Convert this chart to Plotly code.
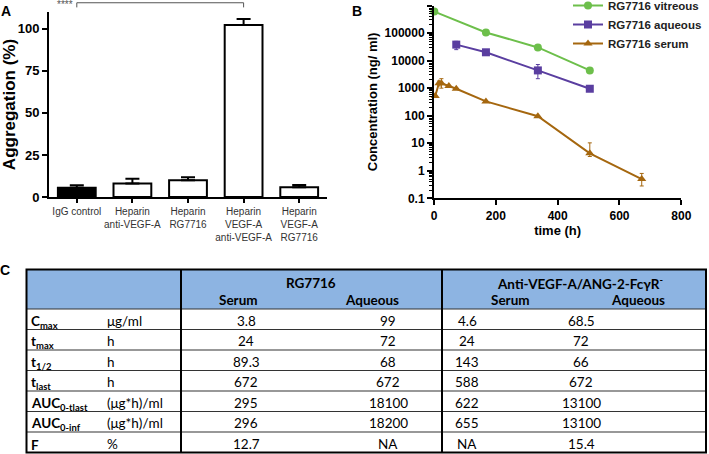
import plotly.graph_objects as go

W, H = 709, 454

# ---------------- Panel A data ----------------
agg_categories = ["IgG control", "Heparin<br>anti-VEGF-A", "Heparin<br>RG7716",
                  "Heparin<br>VEGF-A<br>anti-VEGF-A", "Heparin<br>VEGF-A<br>RG7716"]
agg_values = [5.5, 8.1, 9.9, 102.3, 5.8]
agg_errors = [1.5, 2.7, 1.8, 3.5, 1.3]
agg_ticks = [0, 25, 50, 75, 100]

# ---------------- Panel B data ----------------
vit_t = [1, 168, 336, 504]
vit_c = [600000, 105000, 30000, 4400]
aq_t = [72, 168, 336, 504]
aq_c = [38000, 20000, 4400, 950]
aq_err_plus = [12000, 0, 2800, 0]
aq_err_minus = [13000, 0, 2200, 0]
ser_t = [4, 16, 24, 48, 72, 168, 336, 504, 672]
ser_c = [520, 1500, 1500, 1200, 950, 330, 95, 4.3, 0.5]
ser_err_plus = [0, 300, 700, 0, 0, 0, 0, 6, 0.3]
ser_err_minus = [0, 300, 500, 0, 0, 0, 0, 1, 0.22]
conc_ticks = [0.1, 1, 10, 100, 1000, 10000, 100000, 1000000]
conc_labels = ["0.1", "1", "10", "100", "1000", "10000", "100000", "1000000"]
time_ticks = [0, 200, 400, 600, 800]

# ---------------- Panel C data ----------------
pk_params = ["C<sub>max</sub>", "t<sub>max</sub>", "t<sub>1/2</sub>", "t<sub>last</sub>",
             "AUC<sub>0-tlast</sub>", "AUC<sub>0-inf</sub>", "F"]
pk_units = ["μg/ml", "h", "h", "h", "(μg*h)/ml", "(μg*h)/ml", "%"]
rg_serum = ["3.8", "24", "89.3", "672", "295", "296", "12.7"]
rg_aqueous = ["99", "72", "68", "672", "18100", "18200", "NA"]
anti_serum = ["4.6", "24", "143", "588", "622", "655", "NA"]
anti_aqueous = ["68.5", "72", "66", "672", "13100", "13100", "15.4"]
group_names = ["RG7716", "Anti-VEGF-A/ANG-2-FcγR<sup>-</sup>"]
sub_names = ["Serum", "Aqueous", "Serum", "Aqueous"]

# ---------------- styles ----------------
AXF = "Liberation Sans, Arial, sans-serif"
TBF = "Lato, Calibri, sans-serif"
GREEN = "#6dbf4b"
PURPLE = "#5a3ea0"
BROWN = "#a5670f"
BAR_FILL = ["black", "white", "white", "white", "white"]


def px(x):
    return x / W


def py(y):
    return 1 - y / H


fig = go.Figure()

# Panel A bars
fig.add_trace(go.Bar(
    x=agg_categories, y=agg_values,
    marker=dict(color=BAR_FILL, line=dict(color="black", width=2)),
    error_y=dict(type="data", symmetric=False, array=agg_errors,
                 arrayminus=[0] * len(agg_errors), color="black", thickness=2, width=7),
    xaxis="x", yaxis="y", showlegend=False, hoverinfo="skip"))

# Panel B lines
fig.add_trace(go.Scatter(
    x=vit_t, y=vit_c, mode="lines+markers", name="RG7716 vitreous",
    line=dict(color=GREEN, width=2), marker=dict(symbol="circle", size=8, color=GREEN),
    xaxis="x2", yaxis="y2", cliponaxis=False))
fig.add_trace(go.Scatter(
    x=aq_t, y=aq_c, mode="lines+markers", name="RG7716 aqueous",
    line=dict(color=PURPLE, width=2), marker=dict(symbol="square", size=8, color=PURPLE),
    error_y=dict(type="data", symmetric=False, array=aq_err_plus, arrayminus=aq_err_minus,
                 color=PURPLE, thickness=1, width=2),
    xaxis="x2", yaxis="y2", cliponaxis=False))
fig.add_trace(go.Scatter(
    x=ser_t, y=ser_c, mode="lines+markers", name="RG7716 serum",
    line=dict(color=BROWN, width=2), marker=dict(symbol="triangle-up", size=8, color=BROWN),
    error_y=dict(type="data", symmetric=False, array=ser_err_plus, arrayminus=ser_err_minus,
                 color=BROWN, thickness=1, width=2),
    xaxis="x2", yaxis="y2", cliponaxis=False))

axis_common = dict(showline=True, linecolor="black", ticks="outside", tickcolor="black",
                   showgrid=False, zeroline=False, mirror=False, automargin=False)

fig.update_layout(
    width=W, height=H, margin=dict(l=0, r=0, t=0, b=0, autoexpand=False),
    paper_bgcolor="white", plot_bgcolor="white",
    bargap=0.32, hovermode=False,
    xaxis=dict(domain=[px(49), px(327)], anchor="y", type="category", range=[-0.5, 4.5],
               linewidth=2, ticklen=4, tickwidth=1.5, tickangle=0,
               tickfont=dict(family=AXF, size=10, color="#333"), **axis_common),
    yaxis=dict(domain=[py(197), py(12)], anchor="x", range=[0, 110], tickvals=agg_ticks,
               linewidth=2, ticklen=5, tickwidth=2,
               tickfont=dict(family=AXF, size=13, color="black", weight="bold"),
               title=dict(text="<b>Aggregation (%)</b>", font=dict(family=AXF, size=17, color="black"),
                          standoff=5),
               **axis_common),
    xaxis2=dict(domain=[px(434), px(681.3)], anchor="y2", range=[0, 800], tickvals=time_ticks,
                linewidth=2, ticklen=5, tickwidth=2,
                tickfont=dict(family=AXF, size=12, color="black", weight="bold"),
                title=dict(text="<b>time (h)</b>", font=dict(family=AXF, size=13, color="black"),
                           standoff=4),
                **axis_common),
    yaxis2=dict(domain=[py(198.3), py(5.5)], anchor="x2", type="log", range=[-1, 6],
                tickvals=conc_ticks, ticktext=conc_labels,
                linewidth=2, ticklen=5, tickwidth=2,
                minor=dict(ticks="outside", ticklen=3, tickwidth=1, tickcolor="black", dtick="D1"),
                tickfont=dict(family=AXF, size=12, color="black", weight="bold"),
                title=dict(text="<b>Concentration (ng/ ml)</b>",
                           font=dict(family=AXF, size=13, color="black"), standoff=4),
                **axis_common),
    legend=dict(x=px(568), y=py(-9), xanchor="left", yanchor="top",
                font=dict(family=AXF, size=11.5, color="#222", weight="bold"),
                bgcolor="rgba(0,0,0,0)", tracegroupgap=0, itemwidth=30),
)

shapes = []
annotations = []

# significance bracket (A) from first bar to fourth bar
n_cat = len(agg_categories)
xb0 = (0 + 0.5) / n_cat
xb1 = (3 + 0.5) / n_cat
for xa, xb, ya, yb in [(xb0, xb1, 1.05, 1.05), (xb0, xb0, 1.05, 1.025), (xb1, xb1, 1.05, 1.025)]:
    shapes.append(dict(type="line", xref="x domain", yref="y domain", x0=xa, x1=xb, y0=ya, y1=yb,
                       line=dict(color="#555", width=1)))
annotations.append(dict(text="****", xref="x domain", yref="y domain", x=xb0 - 0.005, y=1.04,
                        xanchor="right", yanchor="middle", showarrow=False,
                        font=dict(family=AXF, size=10, color="#555")))

# panel labels
for lab, lx, ly in [("A", 6, 11), ("B", 357, 11), ("C", 5, 270)]:
    annotations.append(dict(text="<b>%s</b>" % lab, xref="paper", yref="paper", x=px(lx), y=py(ly),
                            xanchor="center", yanchor="middle", showarrow=False,
                            font=dict(family=AXF, size=14, color="black")))

# ---------------- Table (C) ----------------
TX0, TXD1, TXD2, TX1 = 26.5, 181, 442, 706
TY0, TYH = 269.5, 309
n_rows = len(pk_params)
ROW_H = (452.5 - TYH) / n_rows
TY1 = TYH + ROW_H * n_rows

# header fill
shapes.append(dict(type="rect", xref="paper", yref="paper", x0=px(TX0), x1=px(TX1),
                   y0=py(TYH), y1=py(TY0), fillcolor="#8db4e2", line=dict(width=0), layer="below"))
# row lines
for i in range(n_rows):
    yy = TYH + i * ROW_H
    shapes.append(dict(type="line", xref="paper", yref="paper", x0=px(TX0), x1=px(TX1),
                       y0=py(yy), y1=py(yy), line=dict(color="#333", width=1.2)))
# outer box
shapes.append(dict(type="rect", xref="paper", yref="paper", x0=px(TX0), x1=px(TX1),
                   y0=py(TY1), y1=py(TY0), line=dict(color="black", width=2)))
# thick vertical dividers
for xv in (TXD1, TXD2):
    shapes.append(dict(type="line", xref="paper", yref="paper", x0=px(xv), x1=px(xv),
                       y0=py(TY1), y1=py(TY0), line=dict(color="black", width=2)))

tfont = dict(family=TBF, size=13.5, color="black")

# header texts
for name, cx in zip(group_names, [311, 580]):
    annotations.append(dict(text="<b>%s</b>" % name, xref="paper", yref="paper", x=px(cx), y=py(282.5),
                            xanchor="center", yanchor="middle", showarrow=False, font=tfont))
for name, cx in zip(sub_names, [239, 372, 510, 638]):
    annotations.append(dict(text="<b>%s</b>" % name, xref="paper", yref="paper", x=px(cx), y=py(300),
                            xanchor="center", yanchor="middle", showarrow=False, font=tfont))

value_cols = [rg_serum, rg_aqueous, anti_serum, anti_aqueous]
value_cx = [246, 388, 467, 581]
for i in range(n_rows):
    cy = TYH + (i + 0.5) * ROW_H + 1.5
    annotations.append(dict(text="<b>%s</b>" % pk_params[i], xref="paper", yref="paper", x=px(28.5),
                            y=py(cy + 1), xanchor="left", yanchor="middle", showarrow=False, font=tfont))
    annotations.append(dict(text=pk_units[i], xref="paper", yref="paper", x=px(105),
                            y=py(cy), xanchor="left", yanchor="middle", showarrow=False, font=tfont))
    for col, cx in zip(value_cols, value_cx):
        annotations.append(dict(text=col[i], xref="paper", yref="paper", x=px(cx), y=py(cy),
                                xanchor="center", yanchor="middle", showarrow=False, font=tfont))

fig.update_layout(shapes=shapes, annotations=annotations)

fig.write_html("out.html", config={"displayModeBar": False},
               post_script="document.body.style.margin='0';document.body.style.padding='0';")
